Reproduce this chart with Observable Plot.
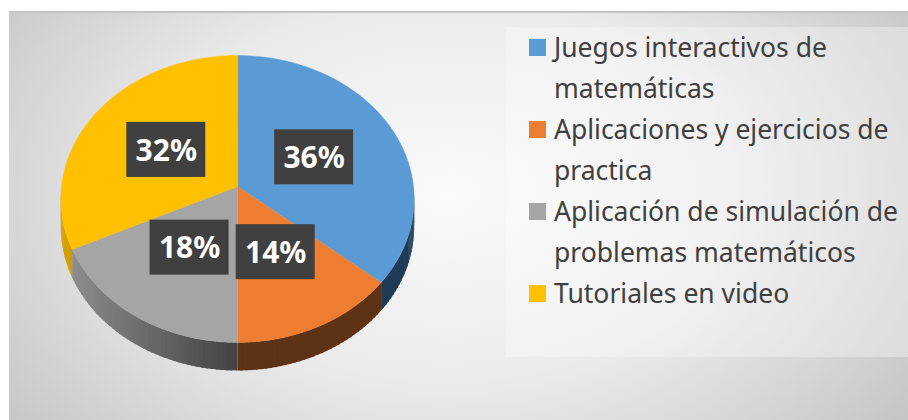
<!DOCTYPE html>
<html>
<head>
<meta charset="utf-8">
<script src="https://cdn.jsdelivr.net/npm/d3@7"></script>
<script src="https://cdn.jsdelivr.net/npm/@observablehq/plot@0.6"></script>
<style>
  html, body { margin: 0; padding: 0; background: #fff; }
  #wrap { position: relative; width: 908px; height: 420px; overflow: hidden; background: #fff; }
  #frame { position: absolute; left: 9px; top: 11px; width: 899px; height: 409px;
    border-top: 2px solid #c4c4c4; box-sizing: border-box;
    background: radial-gradient(ellipse 560px 380px at 440px 180px, #fafafa 0%, #ebebeb 50%, #c6c6c6 100%); }
  #chart { position: absolute; left: 0; top: 0; }
  #legend { position: absolute; left: 506px; top: 27px; width: 402px; height: 330px;
    background: rgba(255,255,255,0.32); font-family: "Noto Sans", sans-serif; font-size: 26.5px; color: #404040; }
  .item { display: flex; align-items: flex-start; margin-left: 23px; }
  .sw { width: 17px; height: 17px; flex: none; margin-top: 12px; margin-right: 8px; }
  .tx { white-space: pre-line; line-height: 41px; margin-top: 0; }
</style>
</head>
<body>
<div id="wrap">
  <div id="frame"></div>
  <div id="chart"></div>
  <div id="legend"></div>
</div>
<script>
// ---- data ----
const categories = [
  "Juegos interactivos de matemáticas",
  "Aplicaciones y ejercicios de practica",
  "Aplicación de simulación de problemas matemáticos",
  "Tutoriales en video"
];
const legendLabels = [
  "Juegos interactivos de\nmatemáticas",
  "Aplicaciones y ejercicios de\npractica",
  "Aplicación de simulación de\nproblemas matemáticos",
  "Tutoriales en video"
];
const values = [36, 14, 18, 32];
const topColors = ["#5b9bd5", "#ed7d31", "#a5a5a5", "#ffc000"];
const sideDark = ["#1f3b57", "#5e3214", "#424242", "#7f6000"];
const sideLight = ["#3d6c9a", "#a6561c", "#959595", "#d9a200"];

// ---- layout ----
const W = 506, H = 420;
const CX = 237, CY = 186, SX = 176, SY = 142.4;
const P = 0.087;          // perspective factor
const DEPTH = 28 / SY;    // side thickness in y units
const LABEL_R = 0.49;
const BOX_HW = 39.5 / SX, BOX_HH = 27.5 / SY;

function proj(theta, r = 1, drop = 0) {
  const u = r * Math.sin(theta), v = -r * Math.cos(theta);
  const d = 1 - P * v;
  return [u / d, v / d + drop];
}

const total = d3.sum(values);
const arcs = d3.pie().sort(null).value(d => d)(values);

// top faces
const topPts = [];
arcs.forEach((a, i) => {
  topPts.push({id: i, x: 0, y: 0, c: topColors[i]});
  const n = Math.max(2, Math.ceil((a.endAngle - a.startAngle) / (Math.PI / 180)));
  for (let k = 0; k <= n; k++) {
    const t = a.startAngle + (a.endAngle - a.startAngle) * k / n;
    const [x, y] = proj(t);
    topPts.push({id: i, x, y, c: topColors[i]});
  }
});

// side strips (front half only), slightly overlapping to avoid seams
const sidePts = [];
let sid = 0;
const OVER = 0.6 * Math.PI / 180;
arcs.forEach((a, i) => {
  const s = Math.max(a.startAngle, Math.PI / 2), e = Math.min(a.endAngle, 3 * Math.PI / 2);
  if (e <= s) return;
  const n = Math.max(1, Math.ceil((e - s) / (1.5 * Math.PI / 180)));
  const interp = d3.interpolateRgb(sideDark[i], sideLight[i]);
  for (let k = 0; k < n; k++) {
    const t0 = s + (e - s) * k / n;
    const t1 = Math.min(e, s + (e - s) * (k + 1) / n + OVER);
    const c = interp(Math.max(0, -Math.sin((t0 + t1) / 2)));
    const q = [proj(t0), proj(t1), proj(t1, 1, DEPTH), proj(t0, 1, DEPTH)];
    q.forEach(([x, y]) => sidePts.push({id: sid, x, y, c}));
    sid++;
  }
});

// drop shadow silhouette
const shadowPts = [];
for (let k = 0; k <= 180; k++) {
  const t = -Math.PI / 2 + Math.PI * k / 180;
  const [x, y] = proj(t, 1, 0.06);
  shadowPts.push({x: x + 0.03, y});
}
for (let k = 0; k <= 180; k++) {
  const t = Math.PI / 2 + Math.PI * k / 180;
  const [x, y] = proj(t, 1, DEPTH + 0.06);
  shadowPts.push({x: x + 0.03, y});
}

// labels
const labelData = arcs.map((a, i) => {
  const [x, y] = proj((a.startAngle + a.endAngle) / 2, LABEL_R);
  return {x, y, text: Math.round(values[i] / total * 100) + "%", cat: categories[i]};
});

const chart = Plot.plot({
  width: W, height: H,
  margin: 0,
  x: {domain: [-CX / SX, (W - CX) / SX], range: [0, W], axis: null},
  y: {domain: [-CY / SY, (H - CY) / SY], range: [0, H], axis: null},
  color: {type: "identity"},
  style: {background: "transparent", fontFamily: "'Noto Sans', sans-serif"},
  marks: [
    Plot.line(shadowPts, {x: "x", y: "y", fill: "#000", fillOpacity: 0.28, stroke: null, curve: "linear-closed", ariaLabel: "pie-shadow"}),
    Plot.line(sidePts, {x: "x", y: "y", z: "id", fill: "c", stroke: null, curve: "linear-closed"}),
    Plot.line(topPts, {x: "x", y: "y", z: "id", fill: "c", stroke: "c", strokeWidth: 0.4, curve: "linear-closed"}),
    Plot.rect(labelData, {x1: d => d.x - BOX_HW, x2: d => d.x + BOX_HW, y1: d => d.y - BOX_HH, y2: d => d.y + BOX_HH, fill: "#404040", ariaLabel: "label-box"}),
    Plot.text(labelData, {x: "x", y: "y", text: "text", fill: "white", fontSize: 30, fontWeight: "bold", dy: 1, fontFamily: "'Noto Sans', sans-serif"})
  ]
});

const svg = d3.select(chart);
const defs = svg.insert("defs", ":first-child");
const blur = defs.append("filter").attr("id", "pblur").attr("x", "-20%").attr("y", "-20%").attr("width", "140%").attr("height", "140%");
blur.append("feGaussianBlur").attr("stdDeviation", 6);
const ds = defs.append("filter").attr("id", "lshadow").attr("x", "-30%").attr("y", "-30%").attr("width", "160%").attr("height", "170%");
ds.append("feDropShadow").attr("dx", 3).attr("dy", 4).attr("stdDeviation", 2.5).attr("flood-color", "#000").attr("flood-opacity", 0.5);
const pat = defs.append("pattern").attr("id", "dots").attr("width", 8).attr("height", 8).attr("patternUnits", "userSpaceOnUse");
pat.append("rect").attr("width", 8).attr("height", 8).attr("fill", "#404040");
pat.append("rect").attr("x", 3).attr("y", 3).attr("width", 2).attr("height", 2).attr("fill", "#525252");
svg.select('g[aria-label="pie-shadow"]').attr("filter", "url(#pblur)");
svg.select('g[aria-label="label-box"]').attr("filter", "url(#lshadow)").selectAll("rect").attr("fill", "url(#dots)");

document.getElementById("chart").appendChild(chart);

// legend
const leg = d3.select("#legend");
legendLabels.forEach((lab, i) => {
  const it = leg.append("div").attr("class", "item");
  it.append("div").attr("class", "sw").style("background", topColors[i]);
  it.append("div").attr("class", "tx").text(lab);
});
</script>
</body>
</html>
